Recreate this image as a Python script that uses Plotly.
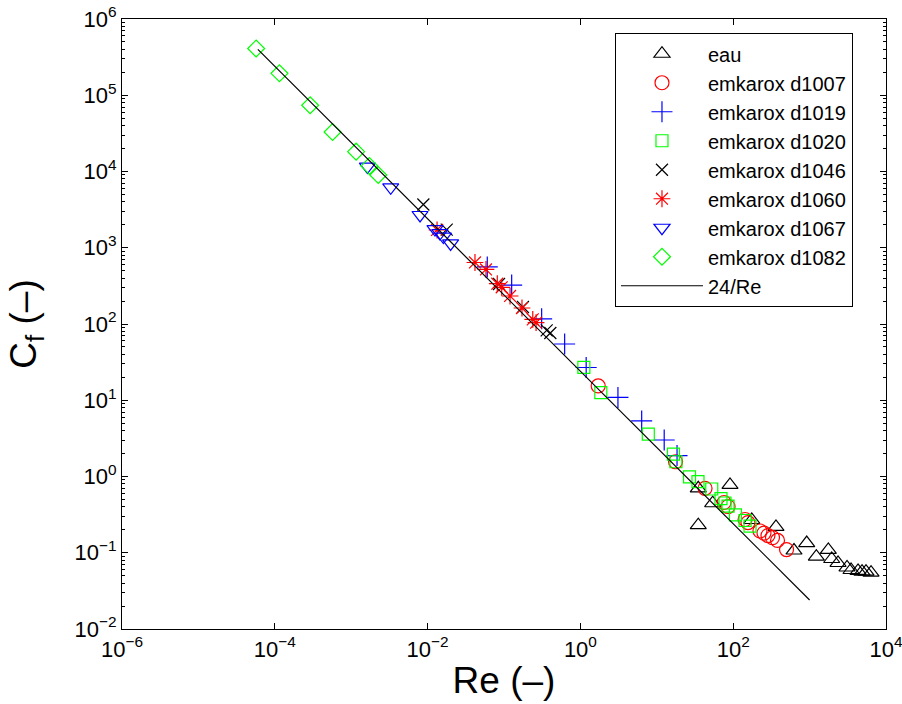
import plotly.graph_objects as go

# ---- data (Re, Cf) ----
eau_re = [34.9, 90.8, 53.9, 34.9, 175, 363, 625, 916, 1225, 1758, 1946, 2355, 3090, 3486, 4305, 4857, 5474, 6370]
eau_cf = [0.70, 0.775, 0.446, 0.23, 0.269, 0.218, 0.107, 0.134, 0.0887, 0.109, 0.0828, 0.0734, 0.0641, 0.0594, 0.0577, 0.0565, 0.0565, 0.0548]

d1007_re = [1.71, 17.6, 42.8, 75.9, 85.6, 143, 156, 224, 253, 285, 327, 380, 499]
d1007_cf = [15.4, 1.56, 0.70, 0.456, 0.404, 0.273, 0.249, 0.193, 0.181, 0.168, 0.158, 0.145, 0.110]

d1019_re = [0.0604, 0.126, 0.311, 0.622, 1.19, 3.10, 6.34, 12.5, 18.4]
d1019_cf = [560, 324, 117, 54.7, 26.9, 10.9, 5.35, 3.01, 1.88]

d1020_re = [1.11, 1.85, 7.74, 16.5, 17.8, 26.8, 34.6, 52.4, 69.2, 78.1, 85.6, 107, 143, 166]
d1020_cf = [27.0, 12.6, 3.60, 1.97, 1.56, 0.99, 0.855, 0.686, 0.514, 0.449, 0.410, 0.313, 0.265, 0.224]

d1046_re = [0.0088, 0.0178, 0.086, 0.177, 0.362, 0.404]
d1046_cf = [3690, 1730, 335, 167, 82.6, 76.2]

d1060_re = [0.0133, 0.0417, 0.0581, 0.0817, 0.0933, 0.120, 0.172, 0.238, 0.263]
d1060_cf = [1710, 641, 519, 338, 303, 233, 162, 115, 104]

d1067_re = [0.00163, 0.00329, 0.00796, 0.0125, 0.0145, 0.0161, 0.0200]
d1067_cf = [11600, 6200, 2690, 1760, 1560, 1400, 1140]

d1082_re = [5.7e-5, 1.15e-4, 2.9e-4, 5.7e-4, 1.16e-3, 1.73e-3, 2.26e-3]
d1082_cf = [4.1e5, 1.94e5, 7.4e4, 3.3e4, 1.82e4, 1.18e4, 9.0e3]

line_re = [6e-5, 1e3]
line_cf = [4.0e5, 0.024]

x_tick_vals = [1e-6, 1e-4, 1e-2, 1e0, 1e2, 1e4]
x_tick_text = ["10<sup>−6</sup>", "10<sup>−4</sup>", "10<sup>−2</sup>", "10<sup>0</sup>", "10<sup>2</sup>", "10<sup>4</sup>"]
y_tick_vals = [1e-2, 1e-1, 1e0, 1e1, 1e2, 1e3, 1e4, 1e5, 1e6]
y_tick_text = ["10<sup>−2</sup>", "10<sup>−1</sup>", "10<sup>0</sup>", "10<sup>1</sup>", "10<sup>2</sup>",
               "10<sup>3</sup>", "10<sup>4</sup>", "10<sup>5</sup>", "10<sup>6</sup>"]

series = [
    ("eau", eau_re, eau_cf, "triangle-up-open", "#000000", 14),
    ("emkarox d1007", d1007_re, d1007_cf, "circle-open", "#FF0000", 14),
    ("emkarox d1019", d1019_re, d1019_cf, "cross-thin-open", "#0000FF", 15),
    ("emkarox d1020", d1020_re, d1020_cf, "square-open", "#00FF00", 12),
    ("emkarox d1046", d1046_re, d1046_cf, "x-thin-open", "#000000", 12),
    ("emkarox d1060", d1060_re, d1060_cf, "asterisk-open", "#FF0000", 14),
    ("emkarox d1067", d1067_re, d1067_cf, "triangle-down-open", "#0000FF", 14),
    ("emkarox d1082", d1082_re, d1082_cf, "diamond-open", "#00FF00", 13),
]

fig = go.Figure()
for name, xs, ys, sym, col, sz in series:
    fig.add_trace(go.Scatter(
        x=xs, y=ys, mode="markers", name=name,
        marker=dict(symbol=sym, size=sz, color=col, line=dict(color=col, width=1.2)),
    ))
fig.add_trace(go.Scatter(x=line_re, y=line_cf, mode="lines", name="24/Re",
                         line=dict(color="black", width=1.2)))

FONT = "Liberation Sans, Arial, sans-serif"
fig.update_layout(
    width=902, height=704,
    margin=dict(l=122, r=16, t=19, b=75),
    paper_bgcolor="white", plot_bgcolor="white",
    font=dict(family=FONT, color="black", size=21),
    showlegend=True,
    legend=dict(x=0.645, y=0.977, xanchor="left", yanchor="top",
                bordercolor="black", borderwidth=1.2, bgcolor="white",
                font=dict(size=20, family=FONT), tracegroupgap=0,
                itemwidth=82, entrywidth=255, entrywidthmode="pixels"),
)
fig.update_xaxes(
    type="log", range=[-6, 4], tickvals=x_tick_vals, ticktext=x_tick_text,
    ticks="inside", ticklen=6, tickcolor="black", showgrid=False, zeroline=False,
    showline=True, linecolor="black", linewidth=1.2, mirror="allticks",
    tickfont=dict(size=22), automargin=False, ticklabeloverflow="allow",
    title=dict(text="Re (–)", font=dict(size=37), standoff=6),
)
fig.update_yaxes(
    type="log", range=[-2, 6], tickvals=y_tick_vals, ticktext=y_tick_text,
    ticks="inside", ticklen=6, tickcolor="black", showgrid=False, zeroline=False,
    showline=True, linecolor="black", linewidth=1.2, mirror="allticks",
    minor=dict(ticks="inside", ticklen=3, tickcolor="black", showgrid=False,
               tickvals=[m * 10 ** e for e in range(-2, 6) for m in range(2, 10)]),
    tickfont=dict(size=22), automargin=False, ticklabeloverflow="allow",
    title=dict(text="C<sub>f</sub> (–)", font=dict(size=37), standoff=26),
)

fig.write_html("out.html", config={"displayModeBar": False},
               post_script="document.body.style.margin='0px';document.body.style.overflow='hidden';")
